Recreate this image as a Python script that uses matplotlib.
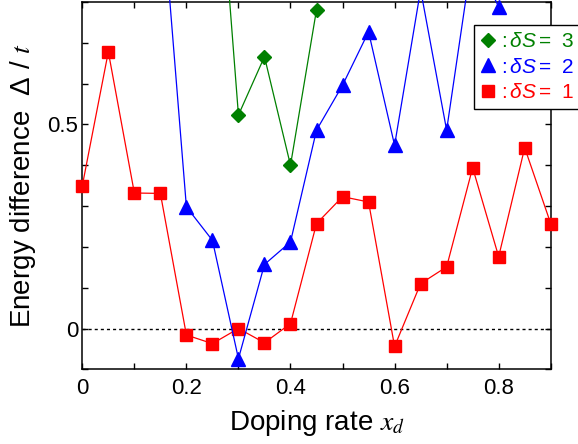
import numpy as np
import matplotlib
matplotlib.use("Agg")
import matplotlib.pyplot as plt
from matplotlib.ticker import MultipleLocator, FixedLocator, FixedFormatter

plt.rcParams['font.family'] = ['Liberation Sans', 'DejaVu Sans']
plt.rcParams['mathtext.fontset'] = 'custom'
plt.rcParams['mathtext.it'] = 'Liberation Sans:italic'
plt.rcParams['mathtext.rm'] = 'Liberation Sans'

# doping rate grid and the three spin sectors
x_s1 = [0.0, 0.05, 0.1, 0.15, 0.2, 0.25, 0.3, 0.35, 0.4, 0.45,
        0.5, 0.55, 0.6, 0.65, 0.7, 0.75, 0.8, 0.85, 0.9]
gap_s1 = [0.350, 0.678, 0.332, 0.331, -0.016, -0.037, 0.0, -0.035, 0.012, 0.257,
          0.323, 0.310, -0.044, 0.110, 0.151, 0.394, 0.176, 0.443, 0.257]

x_s2 = [0.15, 0.2, 0.25, 0.3, 0.35, 0.4, 0.45, 0.5, 0.55, 0.6, 0.65, 0.7, 0.75, 0.8]
gap_s2 = [1.09, 0.298, 0.216, -0.074, 0.157, 0.212, 0.486, 0.596, 0.727, 0.449,
          0.83, 0.486, 0.92, 0.788]

x_s3 = [0.25, 0.3, 0.35, 0.4, 0.45]
gap_s3 = [1.35, 0.523, 0.666, 0.400, 0.781]

xtick_pos = [0, 0.2, 0.4, 0.6, 0.8]
xtick_lab = ['0', '0.2', '0.4', '0.6', '0.8']
ytick_pos = [0, 0.5]
ytick_lab = ['0', '0.5']

fig = plt.figure(figsize=(5.78, 4.44), dpi=100)
ax = fig.add_axes([0.1424, 0.1682, 0.8104, 0.8273])

ax.axhline(0, color='black', lw=1.0, dashes=(2.2, 2.2), zorder=1)

# markers are not clipped at the frame (the edge points sit on the spines)
l1, = ax.plot(x_s1, gap_s1, color='red', lw=0.9, marker='s', ms=8.6,
              label=':$\\,\\delta S\\,$=  1', clip_on=False, zorder=3)
l2, = ax.plot(x_s2, gap_s2, color='blue', lw=0.9, marker='^', ms=10,
              label=':$\\,\\delta S\\,$=  2', clip_on=False, zorder=3)
l3, = ax.plot(x_s3, gap_s3, color='green', lw=0.9, marker='D', ms=7.6,
              label=':$\\,\\delta S\\,$=  3', clip_on=False, zorder=3)

ax.set_xlim(0, 0.9)
ax.set_ylim(-0.1, 0.8)

ax.xaxis.set_major_locator(FixedLocator(xtick_pos))
ax.xaxis.set_major_formatter(FixedFormatter(xtick_lab))
ax.xaxis.set_minor_locator(MultipleLocator(0.1))
ax.yaxis.set_major_locator(FixedLocator(ytick_pos))
ax.yaxis.set_major_formatter(FixedFormatter(ytick_lab))
ax.yaxis.set_minor_locator(MultipleLocator(0.1))

ax.tick_params(which='both', direction='in', top=True, right=True,
               length=4.5, width=1.0, labelsize=16)
ax.tick_params(axis='x', pad=6)
ax.tick_params(axis='y', pad=3)
for s in ax.spines.values():
    s.set_linewidth(1.1)

ax.set_xlabel(r'Doping rate $x_d$', fontsize=20, math_fontfamily='stix', labelpad=7)
ax.set_ylabel('Energy difference  \u0394 / $t$', fontsize=20,
              math_fontfamily='stix', labelpad=7)

leg = ax.legend(handles=[l3, l2, l1], loc='upper left',
                bbox_to_anchor=(0.836, 0.937), fontsize=15,
                frameon=True, fancybox=False, edgecolor='black',
                framealpha=1, handlelength=0.65, handletextpad=0.3,
                borderpad=0.35, labelspacing=0.3, borderaxespad=0)
leg.get_frame().set_linewidth(1.0)
for t, c in zip(leg.get_texts(), ['green', 'blue', 'red']):
    t.set_color(c)
for h in leg.legend_handles:
    h.set_linestyle('none')

fig.savefig('out.png', dpi=100)
